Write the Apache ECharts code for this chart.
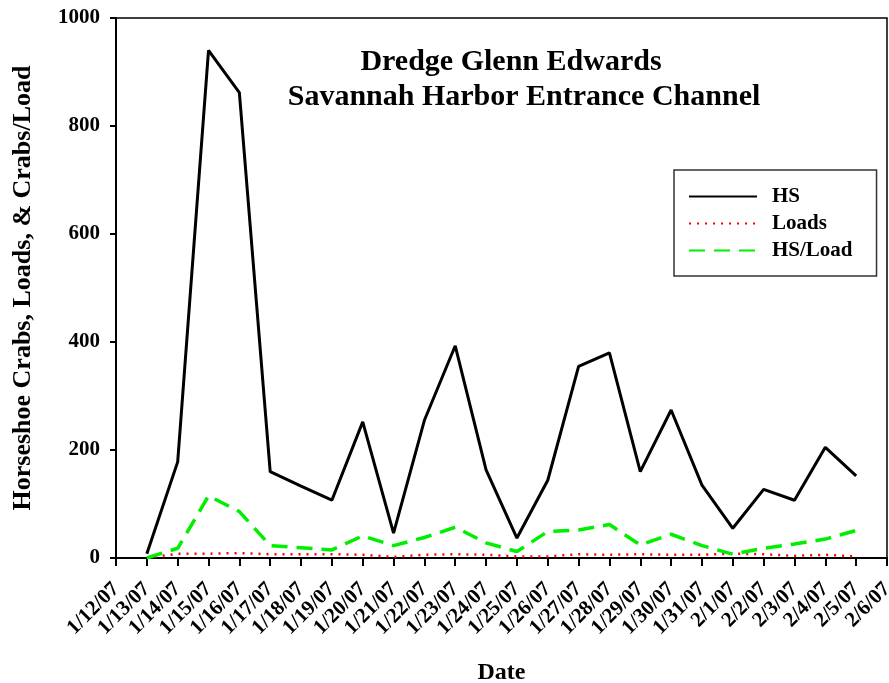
<!DOCTYPE html>
<html>
<head>
<meta charset="utf-8">
<script src="https://cdn.jsdelivr.net/npm/echarts@6/dist/echarts.min.js"></script>
<style>
  html, body { margin: 0; padding: 0; background: #fff; }
  #chart { width: 889px; height: 683px; }
</style>
</head>
<body>
<div id="chart"></div>
<script>
// categories (ticks), data runs 1/13 .. 2/5
const dates = ['1/12/07', '1/13/07', '1/14/07', '1/15/07', '1/16/07', '1/17/07', '1/18/07', '1/19/07',
  '1/20/07', '1/21/07', '1/22/07', '1/23/07', '1/24/07', '1/25/07', '1/26/07', '1/27/07', '1/28/07',
  '1/29/07', '1/30/07', '1/31/07', '2/1/07', '2/2/07', '2/3/07', '2/4/07', '2/5/07', '2/6/07']

const hs = [null, 8, 178, 940, 862, 160, 133, 107, 252, 46, 255, 393, 163, 37, 144, 355, 380,
  160, 274, 135, 55, 127, 107, 205, 152, null]
const loads = [null, 0, 8, 8, 9, 7, 7, 7, 6, 2, 6, 7, 6, 3, 3, 7, 6,
  7, 6, 6, 8, 7, 4, 6, 3, null]
const hsPerLoad = [null, 0, 18, 115, 86, 23, 19, 15, 41, 23, 38, 57, 28, 12, 49, 52, 62,
  24, 44, 23, 7, 18, 26, 35, 51, null]

const font = 'Liberation Serif, Times New Roman, serif'

const chart = echarts.init(document.getElementById('chart'))

const option = {
  animation: false,
  backgroundColor: '#fff',
  title: [
    {
      text: 'Dredge Glenn Edwards',
      left: 506, top: 42, textAlign: 'center',
      textStyle: { fontFamily: font, fontWeight: 'bold', fontSize: 30, color: '#000' }
    },
    {
      text: 'Savannah Harbor Entrance Channel',
      left: 519, top: 77, textAlign: 'center',
      textStyle: { fontFamily: font, fontWeight: 'bold', fontSize: 30, color: '#000' }
    }
  ],
  legend: {
    orient: 'vertical',
    left: 674, top: 170,
    padding: [16, 24, 15, 14],
    itemWidth: 68, itemHeight: 14, itemGap: 6,
    borderColor: '#333', borderWidth: 1.5,
    itemStyle: { opacity: 0 },
    textStyle: { fontFamily: font, fontWeight: 'bold', fontSize: 21, color: '#000', padding: [0, 0, 0, 10] },
    data: ['HS', 'Loads', 'HS/Load']
  },
  grid: {
    left: 116, right: 2, top: 18, bottom: 125,
    outerBoundsMode: 'none',
    containLabel: false,
    show: true, borderColor: '#000', borderWidth: 1.5
  },
  xAxis: {
    type: 'category',
    data: dates,
    boundaryGap: false,
    name: 'Date',
    nameLocation: 'middle',
    nameGap: 103,
    nameTextStyle: { fontFamily: font, fontWeight: 'bold', fontSize: 24, color: '#000' },
    axisLine: { lineStyle: { color: '#000', width: 2 } },
    axisTick: { show: true, length: 8, interval: 0, lineStyle: { color: '#000', width: 2 } },
    axisLabel: {
      interval: 0, rotate: 45, margin: 28,
      fontFamily: font, fontWeight: 'bold', fontSize: 21, color: '#000'
    },
    splitLine: { show: false }
  },
  yAxis: {
    type: 'value',
    min: 0, max: 1000, interval: 200,
    name: 'Horseshoe Crabs, Loads, & Crabs/Load',
    nameLocation: 'middle',
    nameGap: 80,
    nameTextStyle: { fontFamily: font, fontWeight: 'bold', fontSize: 26, color: '#000' },
    axisLine: { show: true, lineStyle: { color: '#000', width: 2 } },
    axisTick: { show: true, length: 6, lineStyle: { color: '#000', width: 2 } },
    axisLabel: {
      margin: 16, fontFamily: font, fontWeight: 'bold', fontSize: 21, color: '#000',
      formatter: v => String(v)
    },
    splitLine: { show: false }
  },
  series: [
    {
      name: 'HS', type: 'line', data: hs,
      symbol: 'none',
      lineStyle: { color: '#000', width: 3 },
      itemStyle: { color: '#000' },
      z: 3
    },
    {
      name: 'Loads', type: 'line', data: loads,
      symbol: 'none',
      lineStyle: { color: '#ff0000', width: 2.5, type: [2, 6] },
      itemStyle: { color: '#ff0000' },
      z: 2
    },
    {
      name: 'HS/Load', type: 'line', data: hsPerLoad,
      symbol: 'none',
      lineStyle: { color: '#00ee00', width: 3.5, type: [16, 9] },
      itemStyle: { color: '#00ee00' },
      z: 2
    }
  ]
}

chart.setOption(option)
</script>
</body>
</html>
